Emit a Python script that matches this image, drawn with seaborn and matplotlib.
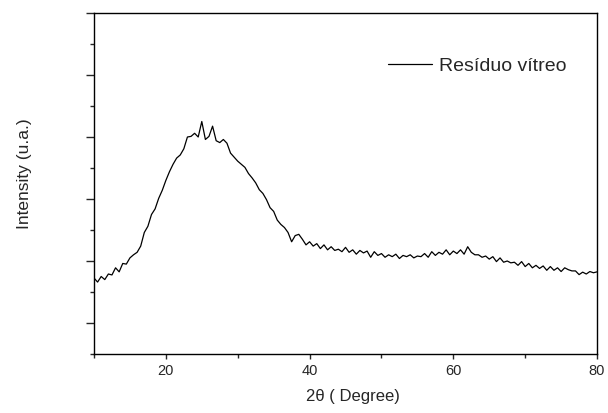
import matplotlib
matplotlib.use("Agg")
import matplotlib.pyplot as plt
import seaborn as sns
import pandas as pd
from matplotlib.ticker import MultipleLocator, NullFormatter

# 2-theta scan (degrees), 0.5 deg step
two_theta = [10 + 0.5 * i for i in range(141)]
intensity = [
    245, 232, 250, 240, 258, 255, 278, 265, 292, 290,
    310, 320, 328, 348, 392, 412, 450, 468, 502, 528,
    560, 588, 612, 632, 642, 662, 700, 702, 712, 700,
    750, 692, 702, 735, 688, 682, 692, 680, 648, 635,
    622, 612, 602, 582, 568, 552, 530, 518, 498, 472,
    460, 432, 418, 408, 392, 362, 382, 386, 370, 352,
    362, 348, 356, 340, 352, 336, 346, 334, 338, 330,
    344, 328, 336, 322, 334, 326, 332, 312, 330, 318,
    324, 312, 320, 314, 322, 308, 318, 314, 320, 310,
    316, 314, 324, 312, 330, 318, 328, 322, 336, 320,
    332, 324, 336, 322, 346, 328, 320, 320, 312, 316,
    306, 314, 298, 310, 296, 300, 294, 296, 286, 298,
    282, 292, 278, 286, 276, 284, 270, 282, 270, 278,
    266, 278, 272, 268, 268, 256, 264, 258, 266, 262,
    265,
]
series_label = "Resíduo vítreo"

sns.set_style("ticks")
plt.rcParams["font.family"] = ["Liberation Sans", "DejaVu Sans"]

df = pd.DataFrame({"two_theta": two_theta, "intensity": intensity})

fig = plt.figure(figsize=(6.08, 4.13), dpi=100)
ax = fig.add_axes([0.1546, 0.1429, 0.8274, 0.8256])

sns.lineplot(data=df, x="two_theta", y="intensity", color="black",
             linewidth=0.9, label=series_label, ax=ax)

ax.set_xlim(10, 80)
ax.set_ylim(0, 1100)
ax.xaxis.set_major_locator(MultipleLocator(20))
ax.xaxis.set_minor_locator(MultipleLocator(10))
ax.set_yticks([100, 300, 500, 700, 900, 1100])
ax.yaxis.set_minor_locator(MultipleLocator(200))
ax.yaxis.set_major_formatter(NullFormatter())

for side in ["left", "bottom", "top", "right"]:
    ax.spines[side].set_visible(True)
    ax.spines[side].set_linewidth(1.0)
    ax.spines[side].set_color("black")

ax.tick_params(axis="x", which="major", length=3.5, width=1.0, labelsize=10.5, pad=4)
ax.tick_params(axis="x", which="minor", length=3, width=1.0)
ax.tick_params(axis="y", which="major", length=6, width=1.0)
ax.tick_params(axis="y", which="minor", length=3, width=1.0)

ax.set_xlabel("2θ ( Degree)", fontsize=12)
ax.xaxis.set_label_coords(0.515, -0.126)
ax.xaxis.label.set_verticalalignment("center")
ax.set_ylabel("Intensity (u.a.)", fontsize=12.5)
ax.yaxis.set_label_coords(-0.139, 0.53)
ax.yaxis.label.set_verticalalignment("center")

ax.legend(loc="center right", bbox_to_anchor=(0.94, 0.845), frameon=False,
          fontsize=14, handlelength=2.3, handletextpad=0.36,
          borderaxespad=0, borderpad=0)

fig.savefig("out.png", dpi=100)
plt.close(fig)
